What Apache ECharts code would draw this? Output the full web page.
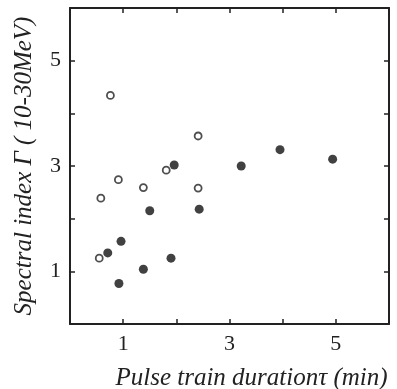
<!DOCTYPE html>
<html>
<head>
<meta charset="utf-8">
<script src="https://cdn.jsdelivr.net/npm/echarts@6/dist/echarts.min.js"></script>
<style>html,body{margin:0;padding:0;background:#fff}#c{width:397px;height:389px}</style>
</head>
<body>
<div id="c"></div>
<script>
var filledPoints = [[1.96,3.02],[1.50,2.15],[2.43,2.18],[0.96,1.57],[0.71,1.35],[1.90,1.25],[1.38,1.04],[0.92,0.77],[3.22,3.00],[3.95,3.31],[4.94,3.13]];
var openPoints = [[0.76,4.34],[2.41,3.57],[1.81,2.92],[0.91,2.74],[1.38,2.59],[0.58,2.39],[2.41,2.58],[0.55,1.25]];
var xTickLabels = [1,3,5];
var yTickLabels = [1,3,5];
var xTitle = 'Pulse train duration\u03c4 (min)';
var yTitle = 'Spectral index \u0393 ( 10-30MeV)';

var ink = '#222';
var font = '"Liberation Serif", "DejaVu Serif", serif';
function axisBase(show, labels, pos) {
  return {
    type: 'value', min: 0, max: 6, interval: 1, position: pos,
    axisLine: {show: true, onZero: false, lineStyle: {color: ink, width: 2}},
    axisTick: {show: true, inside: true, length: 5, lineStyle: {color: ink, width: 1.5}},
    splitLine: {show: false},
    axisLabel: {show: show, color: ink, fontFamily: font, fontSize: 22, margin: 9,
      formatter: function (v) { return labels.indexOf(v) >= 0 ? String(v) : ''; }}
  };
}
var xb = axisBase(true, xTickLabels, 'bottom');
xb.name = xTitle; xb.nameLocation = 'middle'; xb.nameGap = 42;
xb.nameTextStyle = {fontFamily: font, fontStyle: 'italic', fontSize: 25, color: ink, align: 'center', padding: [0,0,0,44]};
var xt = axisBase(false, [], 'top');
var yl = axisBase(true, yTickLabels, 'left');
yl.name = yTitle; yl.nameLocation = 'middle'; yl.nameGap = 33;
yl.nameTextStyle = {fontFamily: font, fontStyle: 'italic', fontSize: 25, color: ink};
var yr = axisBase(false, [], 'right');

var chart = echarts.init(document.getElementById('c'), null, {renderer: 'canvas'});
chart.setOption({
  animation: false,
  backgroundColor: '#fff',
  grid: {left: 70, right: 8, top: 8, bottom: 65, containLabel: false, outerBoundsMode: 'none'},
  xAxis: [xb, xt],
  yAxis: [yl, yr],
  series: [
    {type: 'scatter', xAxisIndex: 0, yAxisIndex: 0, data: filledPoints, symbol: 'circle', symbolSize: 9,
     itemStyle: {color: '#111'}},
    {type: 'scatter', xAxisIndex: 0, yAxisIndex: 0, data: openPoints, symbol: 'circle', symbolSize: 7,
     itemStyle: {color: '#fff', borderColor: ink, borderWidth: 1.8}}
  ]
});
</script>
</body>
</html>
